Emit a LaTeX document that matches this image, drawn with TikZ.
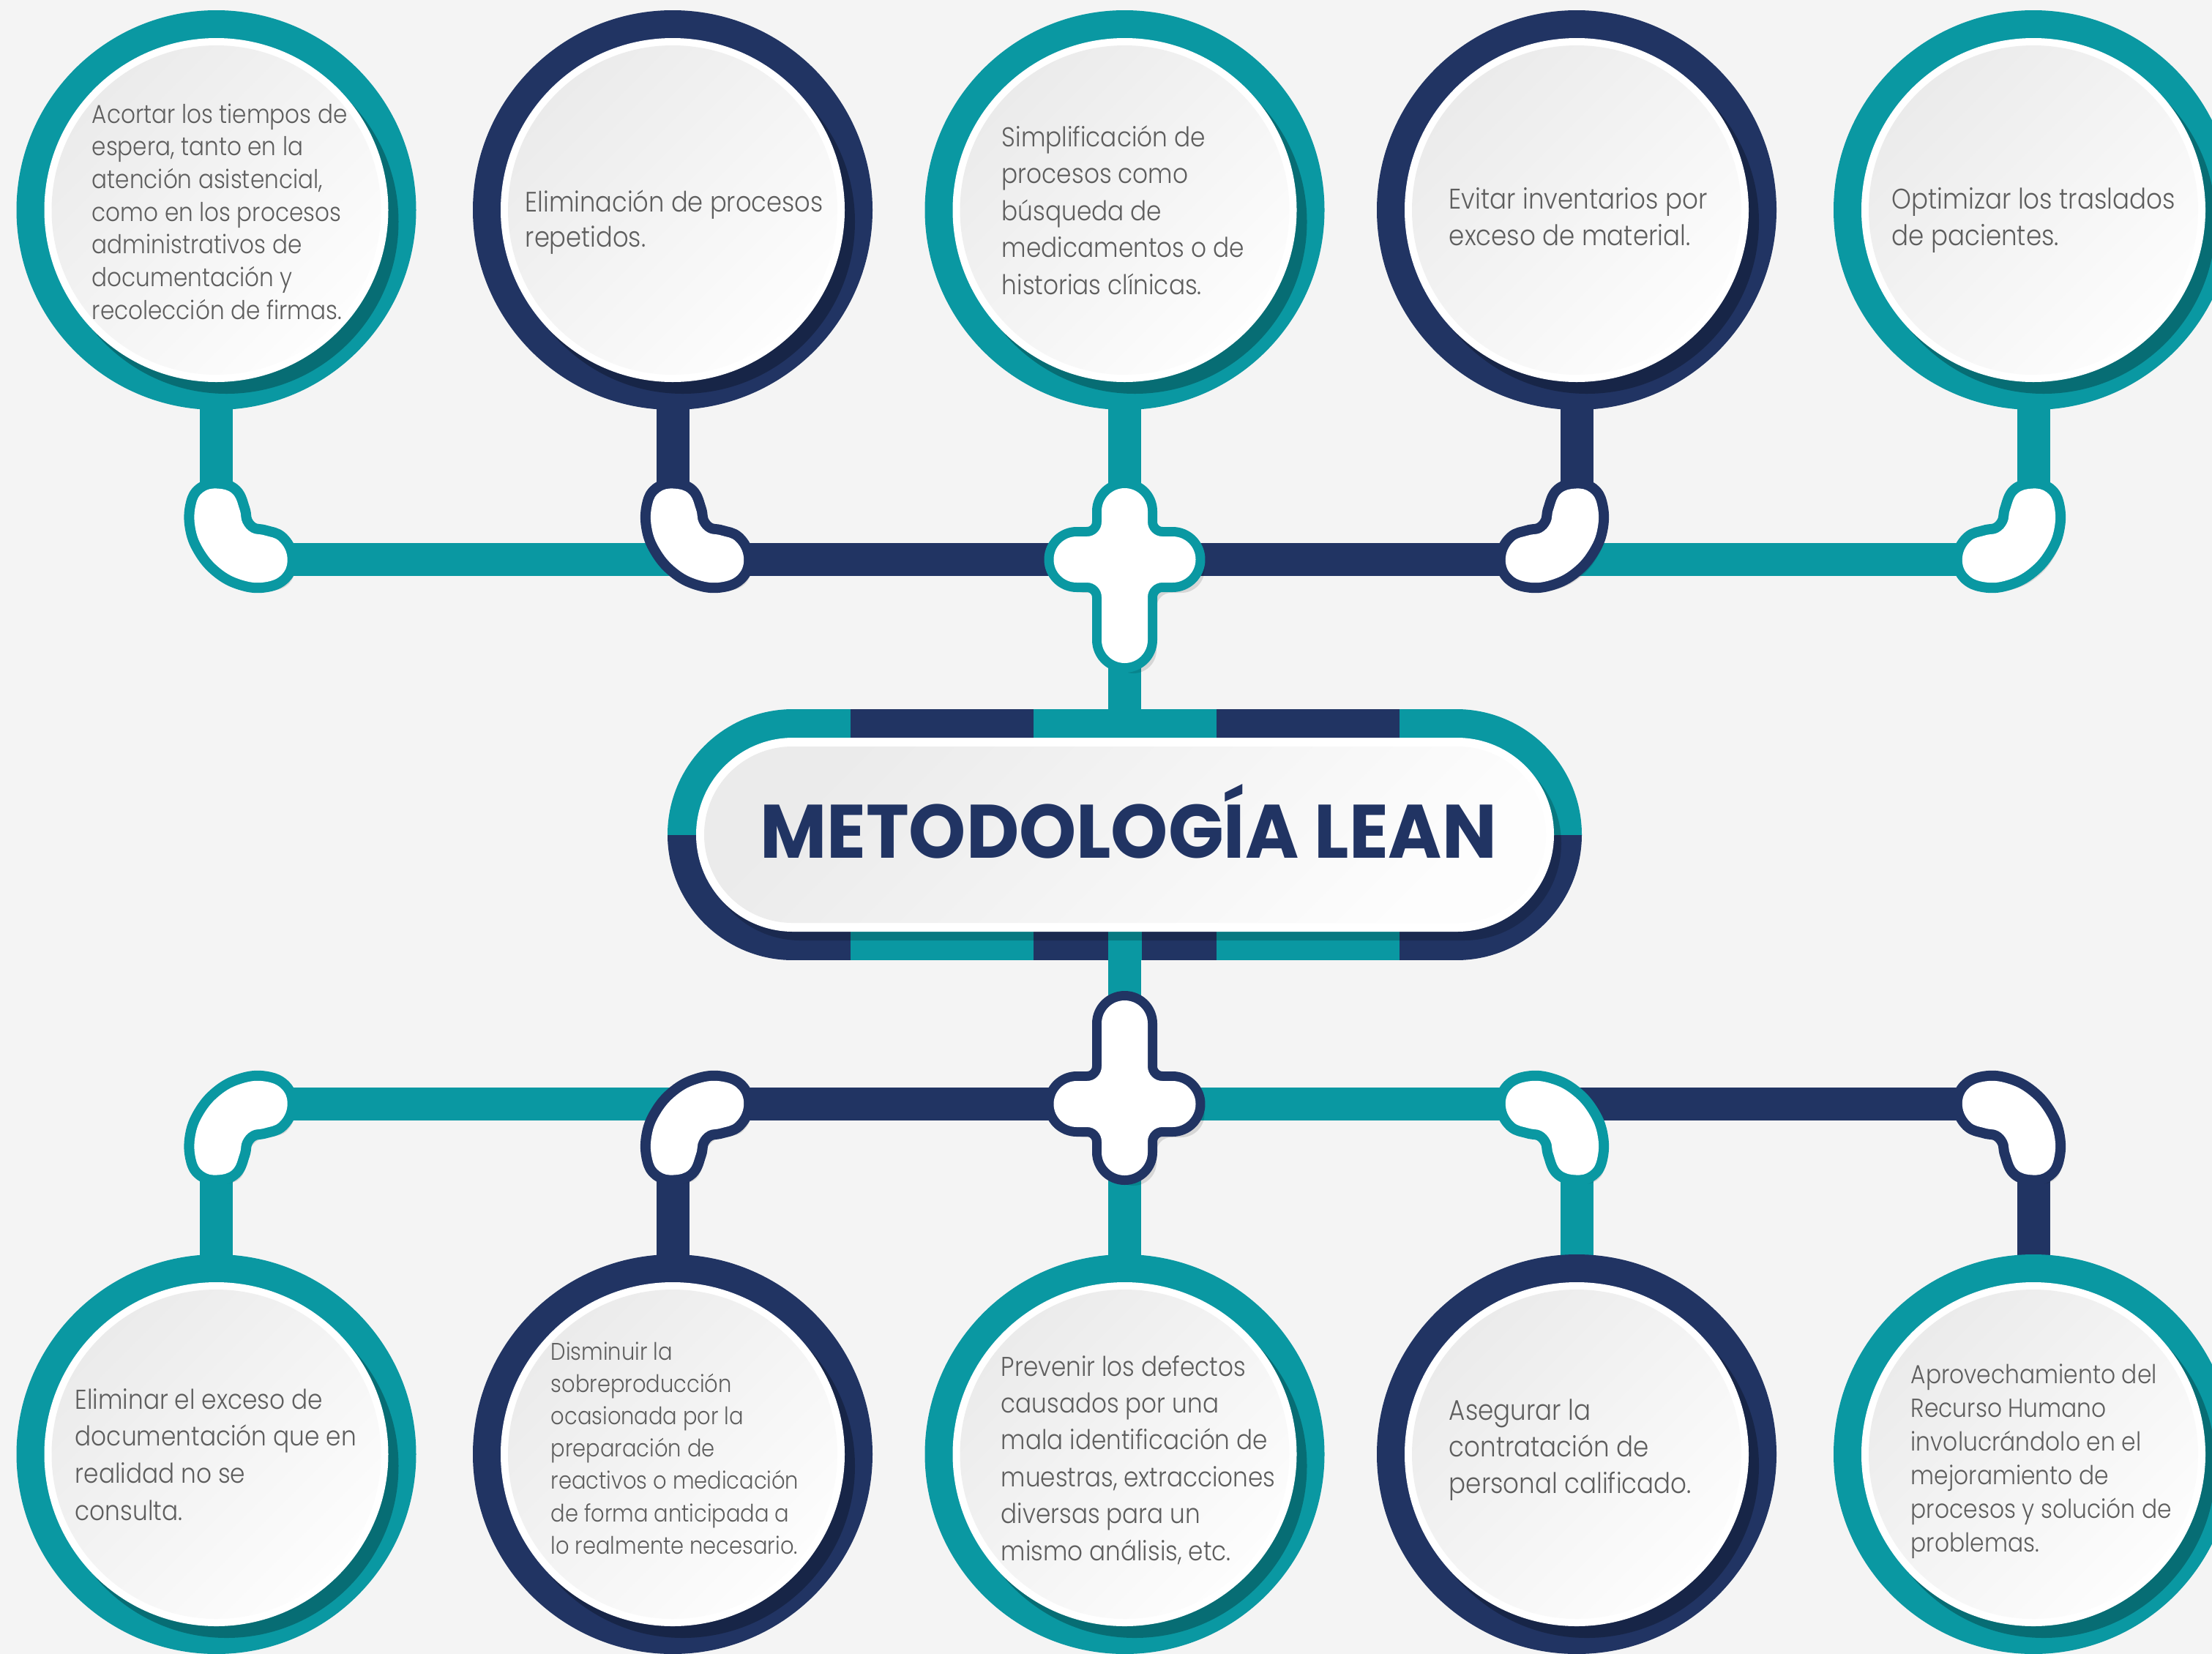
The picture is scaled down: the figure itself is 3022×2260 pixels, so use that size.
\documentclass[tikz,border=0pt]{standalone}
\usepackage{fontspec}
\usepackage{graphicx}
\setmainfont{Poppins}
\newfontfamily\bodyfont{Poppins Light}[FakeStretch=0.88]
\newfontfamily\titlefont{Poppins Bold}
\definecolor{tealc}{HTML}{0A98A2}
\definecolor{navyc}{HTML}{213463}
\definecolor{paper}{HTML}{F4F4F4}
\definecolor{txtgray}{HTML}{5E5E5E}
\definecolor{disclo}{HTML}{EBEBEB}
\definecolor{dischi}{HTML}{FDFDFD}
\newcommand\ctext[3]{\parbox[t]{230pt}{\raggedright\bodyfont\fontsize{#1}{#2}\selectfont #3}}
\newcommand\bubble[2]{%
  \fill[#2] (#1) circle[radius=273];
  \begin{scope}
    \clip (#1) circle[radius=273];
    \fill[black,opacity=.28] ([shift={(14,16)}]#1) circle[radius=235];
  \end{scope}
  \fill[white] (#1) circle[radius=235];
  \shade[top color=disclo, bottom color=dischi, shading angle=45] (#1) circle[radius=225];
}
\tikzset{
  stemT/.style={draw=tealc, line width=11.25pt},
  stemN/.style={draw=navyc, line width=11.25pt},
  body/.style={anchor=base west, inner sep=0pt, text=txtgray},
  pics/kidshape/.style={code={
    \path[pic actions] plot[smooth cycle, tension=0.7] coordinates {(1,-97) (22,-90) (32,-68) (36,-50) (48,-37) (66,-33) (86,-25) (97,-3) (90,20) (66,31) (35,28) (5,12) (-18,-15) (-29,-45) (-28,-75) (-18,-92)};
  }},
  pics/plusshape/.style={code={
    \path[pic actions] (-31.5,-66) arc[start angle=180, end angle=360, radius=31.5]
      -- (31.5,-51.5) arc[start angle=180, end angle=90, radius=20]
      -- (65.5,-31.5) arc[start angle=270, end angle=450, radius=31.5]
      -- (51.5,31.5) arc[start angle=270, end angle=180, radius=20]
      -- (31.5,110) arc[start angle=0, end angle=180, radius=31.5]
      -- (-31.5,51.5) arc[start angle=0, end angle=-90, radius=20]
      -- (-65.5,31.5) arc[start angle=90, end angle=270, radius=31.5]
      -- (-51.5,-31.5) arc[start angle=90, end angle=0, radius=20]
      -- cycle;
  }},
}
\begin{document}
\begin{tikzpicture}[x=0.25pt, y=-0.25pt]
\useasboundingbox (0,0) rectangle (3022,2260);
\fill[paper] (0,0) rectangle (3022,2260);
\clip (0,0) rectangle (3022,2260);
% anchor points
\coordinate (T1) at (295.5,287);
\coordinate (T2) at (919,287);
\coordinate (T3) at (1536.5,287);
\coordinate (T4) at (2154,287);
\coordinate (T5) at (2778,287);
\coordinate (B1) at (295.5,1987);
\coordinate (B2) at (919,1987);
\coordinate (B3) at (1536.5,1987);
\coordinate (B4) at (2154,1987);
\coordinate (B5) at (2778,1987);
\coordinate (ET1) at (295.5,764.5);
\coordinate (ET2) at (919,764.5);
\coordinate (PT) at (1536.5,764.5);
\coordinate (ET4) at (2154,764.5);
\coordinate (ET5) at (2778,764.5);
\coordinate (EB1) at (295.5,1508.5);
\coordinate (EB2) at (919,1508.5);
\coordinate (PB) at (1536.5,1508.5);
\coordinate (EB4) at (2154,1508.5);
\coordinate (EB5) at (2778,1508.5);
% connectors
\draw[stemT] (T3) -- (B3);
\draw[stemT] (T1) -- (ET1);
\draw[stemN] (T2) -- (ET2);
\draw[stemN] (T4) -- (ET4);
\draw[stemT] (T5) -- (ET5);
\draw[stemT] (ET1) -- (ET2);
\draw[stemN] (ET2) -- (PT);
\draw[stemN] (PT) -- (ET4);
\draw[stemT] (ET4) -- (ET5);
\draw[stemT] (B1) -- (EB1);
\draw[stemN] (B2) -- (EB2);
\draw[stemT] (B4) -- (EB4);
\draw[stemN] (B5) -- (EB5);
\draw[stemT] (EB1) -- (EB2);
\draw[stemN] (EB2) -- (PB);
\draw[stemT] (PB) -- (EB4);
\draw[stemN] (EB4) -- (EB5);
% circles
\bubble{T1}{tealc}
\bubble{T2}{navyc}
\bubble{T3}{tealc}
\bubble{T4}{navyc}
\bubble{T5}{tealc}
\bubble{B1}{tealc}
\bubble{B2}{navyc}
\bubble{B3}{tealc}
\bubble{B4}{navyc}
\bubble{B5}{tealc}
% elbows top
\pic[fill=black, opacity=.12] at (305.5,776.5) {kidshape};
\pic[fill=tealc, draw=tealc, line width=7pt, line join=round] at (ET1) {kidshape};
\pic[fill=white] at (ET1) {kidshape};
\pic[fill=black, opacity=.12] at (929,776.5) {kidshape};
\pic[fill=navyc, draw=navyc, line width=7pt, line join=round] at (ET2) {kidshape};
\pic[fill=white] at (ET2) {kidshape};
\pic[xscale=-1, fill=black, opacity=.12] at (2164,776.5) {kidshape};
\pic[xscale=-1, fill=navyc, draw=navyc, line width=7pt, line join=round] at (ET4) {kidshape};
\pic[xscale=-1, fill=white] at (ET4) {kidshape};
\pic[xscale=-1, fill=black, opacity=.12] at (2788,776.5) {kidshape};
\pic[xscale=-1, fill=tealc, draw=tealc, line width=7pt, line join=round] at (ET5) {kidshape};
\pic[xscale=-1, fill=white] at (ET5) {kidshape};
% elbows bottom
\pic[yscale=-1, fill=black, opacity=.12] at (305.5,1520.5) {kidshape};
\pic[yscale=-1, fill=tealc, draw=tealc, line width=7pt, line join=round] at (EB1) {kidshape};
\pic[yscale=-1, fill=white] at (EB1) {kidshape};
\pic[yscale=-1, fill=black, opacity=.12] at (929,1520.5) {kidshape};
\pic[yscale=-1, fill=navyc, draw=navyc, line width=7pt, line join=round] at (EB2) {kidshape};
\pic[yscale=-1, fill=white] at (EB2) {kidshape};
\pic[xscale=-1, yscale=-1, fill=black, opacity=.12] at (2164,1520.5) {kidshape};
\pic[xscale=-1, yscale=-1, fill=tealc, draw=tealc, line width=7pt, line join=round] at (EB4) {kidshape};
\pic[xscale=-1, yscale=-1, fill=white] at (EB4) {kidshape};
\pic[xscale=-1, yscale=-1, fill=black, opacity=.12] at (2788,1520.5) {kidshape};
\pic[xscale=-1, yscale=-1, fill=navyc, draw=navyc, line width=7pt, line join=round] at (EB5) {kidshape};
\pic[xscale=-1, yscale=-1, fill=white] at (EB5) {kidshape};
% plus shapes
\pic[fill=black, opacity=.12] at (1548.5,778.5) {plusshape};
\pic[fill=tealc, draw=tealc, line width=6.5pt, line join=round] at (PT) {plusshape};
\pic[fill=white] at (PT) {plusshape};
\pic[yscale=-1, fill=black, opacity=.12] at (1548.5,1522.5) {plusshape};
\pic[yscale=-1, fill=navyc, draw=navyc, line width=6.5pt, line join=round] at (PB) {plusshape};
\pic[yscale=-1, fill=white] at (PB) {plusshape};
% central pill
\begin{scope}
  \clip[rounded corners=42.875pt] (912,969) rectangle (2161,1312);
  \fill[tealc] (900,969) rectangle (1162,1140.5);
  \fill[navyc] (1162,969) rectangle (1412,1140.5);
  \fill[tealc] (1412,969) rectangle (1662,1140.5);
  \fill[navyc] (1662,969) rectangle (1912,1140.5);
  \fill[tealc] (1912,969) rectangle (2170,1140.5);
  \fill[navyc] (900,1140.5) rectangle (1162,1312);
  \fill[tealc] (1162,1140.5) rectangle (1412,1312);
  \fill[navyc] (1412,1140.5) rectangle (1662,1312);
  \fill[tealc] (1662,1140.5) rectangle (1912,1312);
  \fill[navyc] (1912,1140.5) rectangle (2170,1312);
  \fill[tealc] (1513.5,1140.5) rectangle (1559.5,1312);
  \fill[black, opacity=.2, rounded corners=33.125pt] (961,1020) rectangle (2133,1285);
\end{scope}
\fill[white, rounded corners=33.125pt] (951,1008) rectangle (2123,1273);
\shade[rounded corners=30.125pt, top color=disclo, bottom color=dischi, shading angle=45] (962,1020) rectangle (2112,1261);
\node[anchor=base, inner sep=0pt, text=navyc] (title) at (1541.5,1172) {\resizebox{251.75pt}{25.25pt}{\titlefont METODOLOGÍA LEAN}};
% texts
\node[body] (t1) at (125,168) {\ctext{8.83}{11.18}{Acortar los tiempos de\\espera, tanto en la\\atención asistencial,\\como en los procesos\\administrativos de\\documentación y\\recolección de firmas.}};
\node[body] (t2) at (717,289) {\ctext{9.58}{12}{Eliminación de procesos\\repetidos.}};
\node[body] (t3) at (1368,200) {\ctext{9.31}{12.65}{Simplificación de\\procesos como\\búsqueda de\\medicamentos o de\\historias clínicas.}};
\node[body] (t4) at (1979,285) {\ctext{9.69}{12.5}{Evitar inventarios por\\exceso de material.}};
\node[body] (t5) at (2584,285) {\ctext{9.69}{12.5}{Optimizar los traslados\\de pacientes.}};
\node[body] (b1) at (102,1925) {\ctext{9.31}{12.68}{Eliminar el exceso de\\documentación que en\\realidad no se\\consulta.}};
\node[body] (b2) at (752,1858) {\ctext{8.22}{11.05}{Disminuir la\\sobreproducción\\ocasionada por la\\preparación de\\reactivos o medicación\\de forma anticipada a\\lo realmente necesario.}};
\node[body] (b3) at (1367,1880) {\ctext{9.28}{12.6}{Prevenir los defectos\\causados por una\\mala identificación de\\muestras, extracciones\\diversas para un\\mismo análisis, etc.}};
\node[body] (b4) at (1979,1940) {\ctext{9.69}{12.5}{Asegurar la\\contratación de\\personal calificado.}};
\node[body] (b5) at (2610,1890) {\ctext{8.9}{11.5}{Aprovechamiento del\\Recurso Humano\\involucrándolo en el\\mejoramiento de\\procesos y solución de\\problemas.}};
\end{tikzpicture}
\end{document}
